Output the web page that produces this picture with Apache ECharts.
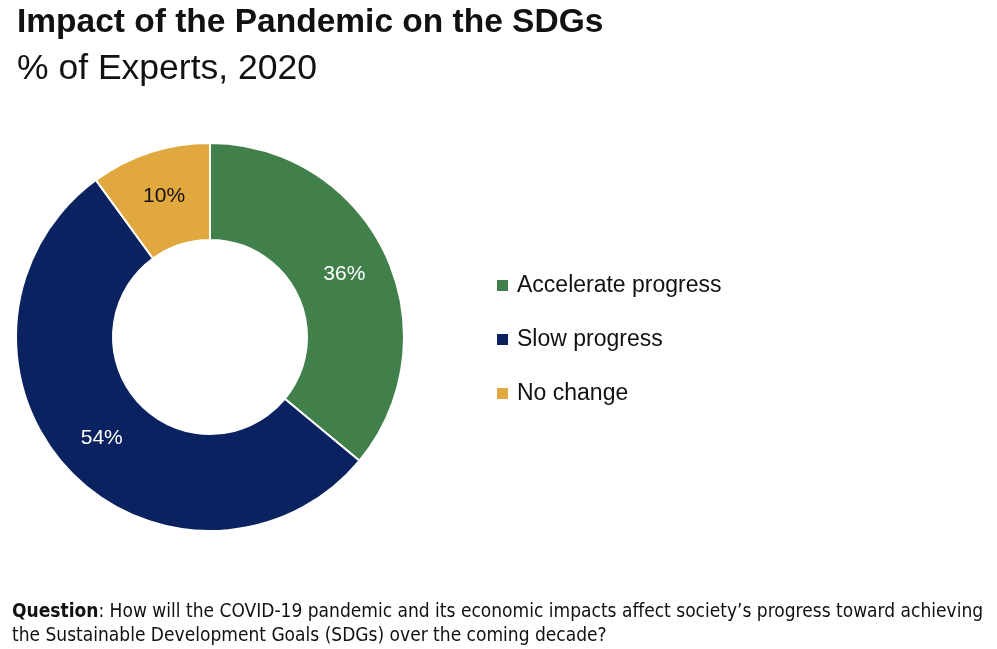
<!DOCTYPE html>
<html><head><meta charset="utf-8">
<script src="https://cdn.jsdelivr.net/npm/echarts@6/dist/echarts.min.js"></script>
<style>html,body{margin:0;padding:0;background:#fff}#c{width:997px;height:649px}</style>
</head><body><div id="c"></div>
<script>
const categories = ["Accelerate progress", "Slow progress", "No change"];
const values = [36, 54, 10];
const colors = ["#41804A", "#0B2260", "#E1A83F"];
const labelColors = ["#ffffff", "#ffffff", "#111111"];

const chart = echarts.init(document.getElementById('c'));
chart.setOption({
  backgroundColor: '#fff',
  animation: false,
  title: [
    {text: 'Impact of the Pandemic on the SDGs', left: 12, top: 1,
     textStyle: {fontFamily: 'Liberation Sans', fontWeight: 'bold', fontSize: 33.5, color: '#111'}},
    {text: '% of Experts, 2020', left: 12, top: 46,
     textStyle: {fontFamily: 'Liberation Sans', fontWeight: 'normal', fontSize: 35.5, color: '#111'}},
    {text: '{b|Question}: How will the COVID-19 pandemic and its economic impacts affect society\u2019s progress toward achieving\nthe Sustainable Development Goals (SDGs) over the coming decade?',
     left: 7, top: 595,
     textStyle: {fontFamily: 'DejaVu Sans Condensed', fontWeight: 'normal', fontSize: 19, color: '#111', lineHeight: 24,
       rich: {b: {fontFamily: 'DejaVu Sans Condensed', fontWeight: 'bold', fontSize: 19, color: '#111'}}}}
  ],
  legend: {
    orient: 'vertical', left: 490, top: 269, itemGap: 31, itemWidth: 13, itemHeight: 13, icon: 'rect',
    data: categories,
    textStyle: {fontFamily: 'Liberation Sans', fontSize: 23, color: '#111', padding: [0,0,0,3]}
  },
  series: [{
    type: 'pie',
    center: [210, 337],
    radius: [97, 194],
    startAngle: 90,
    clockwise: true,
    avoidLabelOverlap: false,
    itemStyle: {borderColor: '#fff', borderWidth: 2},
    label: {show: true, position: 'inside', formatter: '{c}%', fontFamily: 'Liberation Sans', fontSize: 21},
    labelLine: {show: false},
    emphasis: {disabled: true},
    data: categories.map((n, i) => ({
      name: n, value: values[i],
      itemStyle: {color: colors[i]},
      label: {color: labelColors[i]}
    }))
  }]
});
</script></body></html>
